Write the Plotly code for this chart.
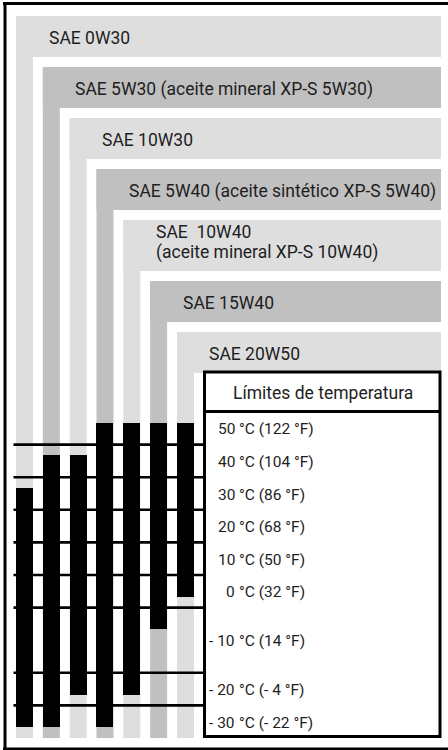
import plotly.graph_objects as go

# Oil grades, top to bottom, and their usable ambient temperature range (°C)
grades = [
    "SAE 0W30",
    "SAE 5W30 (aceite mineral XP-S 5W30)",
    "SAE 10W30",
    "SAE 5W40 (aceite sintético XP-S 5W40)",
    "SAE  10W40<br>(aceite mineral XP-S 10W40)",
    "SAE 15W40",
    "SAE 20W50",
]
max_temp_c = [30, 40, 40, 50, 50, 50, 50]
min_temp_c = [-30, -30, -20, -30, -20, -10, 0]

# Temperature rows of the table
temps_c = [50, 40, 30, 20, 10, 0, -10, -20, -30]
temps_f = [122, 104, 86, 68, 50, 32, 14, -4, -22]
header = "Límites de temperatura"

# ---- layout (pixel units on both axes) ----
W, H = 448, 750
COL_LEFT0, COL_PITCH, COL_W = 16.0, 26.83, 17.0
BAND_TOP0, BAND_H, BAND_LINE_EXTRA, BAND_GAP = 16.0, 41.0, 10.0, 10.0
RIGHT = 441.0
BOX_LEFT, BOX_TOP, BOX_BOTTOM = 204.5, 372.0, 736.5
HEAD_BOTTOM = 412.0
ROW_H = 32.6
ROW_SPAN = {-10: 2}          # the -10 °C row is drawn double height
LIGHT, DARK = "#dedede", "#c0c0c0"
FAMILY = "Roboto, Arial, sans-serif"
INK = "#1e1e1e"
FONT = dict(family=FAMILY, size=17.5, color=INK)
FONT_T = dict(family=FAMILY, size=15.5, color=INK)
LINE_PITCH = 20.0

# row tops for each temperature
row_top = {}
acc = HEAD_BOTTOM
for t in temps_c:
    row_top[t] = acc
    acc += ROW_SPAN.get(t, 1) * ROW_H
table_bottom = acc


def fmt(v):
    return f"- {abs(v)}" if v < 0 else str(v)


def col_left(i):
    return COL_LEFT0 + COL_PITCH * i


fig = go.Figure()
shapes = []
annotations = []

# L-shaped grade bands: horizontal label strip + vertical column down to the table
top = BAND_TOP0
for i, g in enumerate(grades):
    lines = g.split("<br>")
    h = BAND_H + BAND_LINE_EXTRA * (len(lines) - 1)
    color = LIGHT if i % 2 == 0 else DARK
    x0 = col_left(i)
    shapes.append(dict(type="rect", xref="x", yref="y", x0=x0, x1=RIGHT, y0=top, y1=top + h,
                       fillcolor=color, line=dict(width=0), layer="below"))
    shapes.append(dict(type="rect", xref="x", yref="y", x0=x0, x1=x0 + COL_W, y0=top, y1=table_bottom,
                       fillcolor=color, line=dict(width=0), layer="below"))
    if len(lines) == 1:
        ys = [top + h / 2 + 1.5]
    else:
        ys = [top + 12 + LINE_PITCH * k for k in range(len(lines))]
    for txt, yy in zip(lines, ys):
        annotations.append(dict(x=x0 + 30.5, y=yy, xref="x", yref="y", text=txt, showarrow=False,
                                xanchor="left", yanchor="middle", font=FONT))
    top += h + BAND_GAP

# Black temperature-range bars
for i in range(len(grades)):
    y_top = row_top[max_temp_c[i]] + 0.33 * ROW_H
    y_bot = row_top[min_temp_c[i]] + 0.67 * ROW_H
    fig.add_trace(go.Bar(
        x=[col_left(i) + COL_W / 2], base=[y_top], y=[y_bot - y_top], width=COL_W,
        marker=dict(color="black", line=dict(width=0)), hoverinfo="skip", showlegend=False,
    ))

# Row separator lines (left of the table box)
for t in temps_c[1:]:
    yy = row_top[t]
    shapes.append(dict(type="line", xref="x", yref="y", x0=13.5, x1=BOX_LEFT, y0=yy, y1=yy,
                       line=dict(color="black", width=2.6), layer="above"))

# Table box with header
shapes.append(dict(type="rect", xref="x", yref="y", x0=BOX_LEFT, x1=RIGHT - 1, y0=BOX_TOP, y1=BOX_BOTTOM,
                   fillcolor="white", line=dict(color="black", width=3), layer="above"))
shapes.append(dict(type="line", xref="x", yref="y", x0=BOX_LEFT, x1=RIGHT - 1, y0=HEAD_BOTTOM - 0.5,
                   y1=HEAD_BOTTOM - 0.5, line=dict(color="black", width=3), layer="above"))
annotations.append(dict(x=(BOX_LEFT + RIGHT) / 2, y=(BOX_TOP + HEAD_BOTTOM) / 2 + 1, xref="x", yref="y",
                        text=header, showarrow=False, xanchor="center", yanchor="middle", font=FONT))

# Temperature labels: number right-aligned so the °C units line up
for tc, tf in zip(temps_c, temps_f):
    yy = row_top[tc] + ROW_SPAN.get(tc, 1) * ROW_H / 2 + 1
    annotations.append(dict(x=236.5, y=yy, xref="x", yref="y", text=fmt(tc), showarrow=False,
                            xanchor="right", yanchor="middle", font=FONT_T))
    annotations.append(dict(x=236.5, y=yy, xref="x", yref="y", text=f"°C ({fmt(tf)} °F)", showarrow=False,
                            xanchor="left", yanchor="middle", font=FONT_T))

# Outer frame (top, left, bottom)
frame = dict(color="black", width=3)
shapes.append(dict(type="line", xref="x", yref="y", x0=3, x1=W, y0=3.5, y1=3.5, line=frame, layer="above"))
shapes.append(dict(type="line", xref="x", yref="y", x0=5, x1=5, y0=2, y1=H, line=frame, layer="above"))
shapes.append(dict(type="line", xref="x", yref="y", x0=3, x1=W, y0=749, y1=749, line=frame, layer="above"))

fig.update_layout(
    width=W, height=H,
    margin=dict(l=0, r=0, t=0, b=0, pad=0),
    paper_bgcolor="white", plot_bgcolor="white",
    barmode="overlay", bargap=0,
    shapes=shapes, annotations=annotations,
    xaxis=dict(range=[0, W], visible=False, fixedrange=True),
    yaxis=dict(range=[H, 0], visible=False, fixedrange=True),
    showlegend=False,
)

fig.write_html("out.html", config={"displayModeBar": False})
